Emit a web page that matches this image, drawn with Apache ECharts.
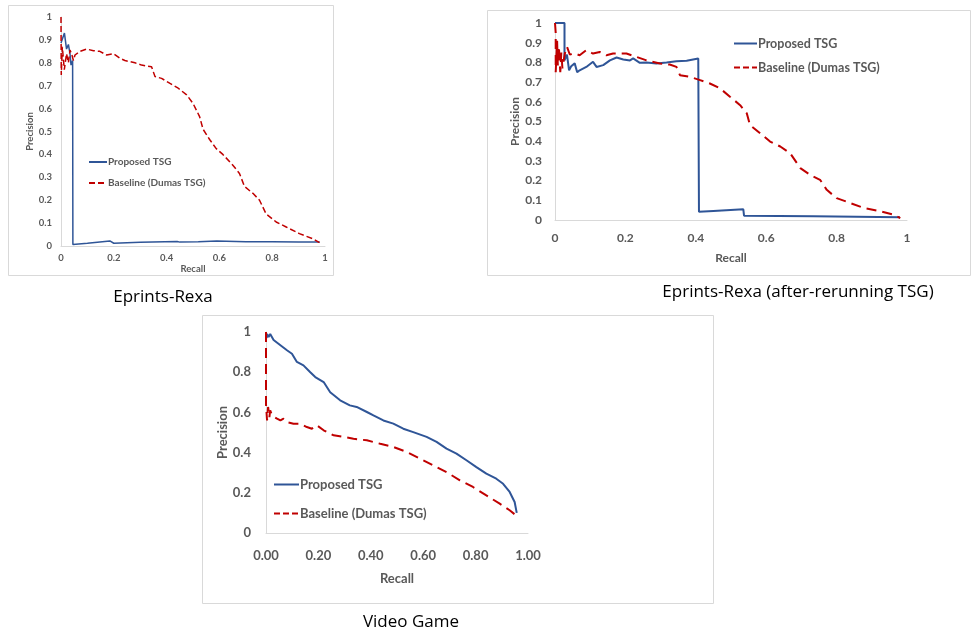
<!DOCTYPE html>
<html>
<head>
<meta charset="utf-8">
<script src="https://cdn.jsdelivr.net/npm/echarts@6/dist/echarts.min.js"></script>
<style>
  html, body { margin: 0; padding: 0; background: #ffffff; }
  #main { width: 971px; height: 634px; }
</style>
</head>
<body>
<div id="main"></div>
<script>
// ---------- data (recall, precision) ----------
const seriesNames = ['Proposed TSG', 'Baseline (Dumas TSG)'];
const captions = ['Eprints-Rexa', 'Eprints-Rexa (after-rerunning TSG)', 'Video Game'];
const recallTicks = [0, 0.2, 0.4, 0.6, 0.8, 1];

const rexaProposed = [[0,0.886],[0.013,0.93],[0.021,0.86],[0.028,0.88],[0.034,0.84],[0.038,0.79],[0.044,0.81],[0.045,0.007],[0.1,0.012],[0.185,0.022],[0.2,0.012],[0.3,0.016],[0.44,0.02],[0.45,0.017],[0.52,0.019],[0.59,0.022],[0.7,0.019],[0.8,0.019],[0.9,0.018],[0.98,0.017]];
const rexaBaseline = [[0,1.0],[0.001,0.747],[0.005,0.87],[0.0125,0.77],[0.021,0.84],[0.028,0.80],[0.034,0.856],[0.04,0.84],[0.047,0.81],[0.053,0.834],[0.072,0.85],[0.097,0.86],[0.123,0.853],[0.147,0.85],[0.173,0.834],[0.198,0.84],[0.223,0.82],[0.242,0.81],[0.28,0.80],[0.305,0.79],[0.343,0.783],[0.356,0.74],[0.381,0.732],[0.413,0.71],[0.444,0.689],[0.476,0.66],[0.5,0.623],[0.525,0.565],[0.538,0.51],[0.563,0.465],[0.588,0.425],[0.613,0.40],[0.651,0.353],[0.676,0.317],[0.695,0.26],[0.727,0.23],[0.752,0.20],[0.777,0.14],[0.815,0.105],[0.853,0.083],[0.903,0.054],[0.953,0.032],[0.979,0.015]];

const rerunProposed = [[0,1.0],[0.027,1.0],[0.027,0.81],[0.034,0.84],[0.04,0.76],[0.046,0.78],[0.056,0.795],[0.063,0.75],[0.07,0.76],[0.089,0.777],[0.108,0.803],[0.118,0.777],[0.137,0.786],[0.156,0.81],[0.175,0.825],[0.194,0.815],[0.213,0.81],[0.222,0.82],[0.241,0.798],[0.26,0.80],[0.288,0.795],[0.317,0.80],[0.345,0.806],[0.374,0.808],[0.407,0.82],[0.409,0.042],[0.45,0.046],[0.535,0.054],[0.537,0.022],[0.734,0.019],[0.98,0.014]];
const rerunBaseline = [[0,1.0],[0.002,0.95],[0.002,0.75],[0.006,0.91],[0.008,0.785],[0.011,0.88],[0.015,0.75],[0.018,0.85],[0.021,0.77],[0.028,0.845],[0.034,0.88],[0.042,0.84],[0.056,0.845],[0.07,0.836],[0.089,0.862],[0.108,0.845],[0.127,0.853],[0.146,0.836],[0.165,0.845],[0.203,0.845],[0.231,0.828],[0.26,0.81],[0.298,0.794],[0.326,0.789],[0.345,0.777],[0.355,0.735],[0.383,0.727],[0.412,0.71],[0.44,0.693],[0.469,0.668],[0.497,0.626],[0.526,0.583],[0.545,0.541],[0.554,0.482],[0.583,0.44],[0.611,0.398],[0.64,0.373],[0.668,0.339],[0.697,0.263],[0.725,0.229],[0.753,0.204],[0.772,0.153],[0.8,0.111],[0.839,0.086],[0.877,0.061],[0.925,0.044],[0.962,0.027],[0.981,0.01]];

const videoProposed = [[0.002,0.97],[0.004,0.99],[0.01,0.975],[0.016,0.99],[0.029,0.96],[0.055,0.934],[0.08,0.909],[0.099,0.892],[0.118,0.851],[0.143,0.834],[0.169,0.80],[0.188,0.776],[0.22,0.751],[0.245,0.70],[0.283,0.66],[0.32,0.635],[0.346,0.627],[0.385,0.602],[0.41,0.585],[0.448,0.56],[0.486,0.544],[0.524,0.519],[0.562,0.502],[0.613,0.478],[0.651,0.453],[0.689,0.42],[0.727,0.395],[0.765,0.362],[0.803,0.328],[0.841,0.295],[0.879,0.27],[0.905,0.245],[0.93,0.204],[0.949,0.154],[0.957,0.1]];
const videoBaseline = [[0,1.0],[0,0.64],[0.004,0.56],[0.008,0.627],[0.013,0.577],[0.016,0.61],[0.023,0.585],[0.032,0.577],[0.042,0.569],[0.055,0.56],[0.067,0.569],[0.08,0.552],[0.105,0.544],[0.13,0.544],[0.156,0.527],[0.175,0.519],[0.194,0.536],[0.22,0.511],[0.258,0.486],[0.296,0.478],[0.334,0.469],[0.385,0.461],[0.436,0.444],[0.486,0.428],[0.537,0.403],[0.588,0.37],[0.638,0.337],[0.689,0.303],[0.74,0.262],[0.79,0.229],[0.841,0.187],[0.892,0.146],[0.93,0.113],[0.952,0.09]];

// ---------- styling ----------
const BLUE = '#2f5597', RED = '#c00000', GRAY = '#595959', AXIS = '#d9d9d9', BORDER = '#d9d9d9';
const FONT = 'Lato';

const panels = [
  { grid: {left: 61, top: 17, width: 264, height: 229}, yInt: 0.1, fs: 9.5, lfs: 10, xFmt: v => String(+v.toFixed(1)),
    xMargin: 7, yMargin: 9, xGap: 16, yGap: 25, lw: 1.5, dash: [6, 3],
    legend: {left: 88, top: 157, itemWidth: 18, itemHeight: 10, itemGap: 11},
    data: [rexaProposed, rexaBaseline] },
  { grid: {left: 555, top: 23, width: 352, height: 197}, yInt: 0.1, fs: 12, lfs: 12.5, xFmt: v => String(+v.toFixed(1)),
    xMargin: 12, yMargin: 13, xGap: 32, yGap: 33, lw: 2, dash: [10, 6],
    legend: {left: 733, top: 37, itemWidth: 23, itemHeight: 12, itemGap: 11},
    data: [rerunProposed, rerunBaseline] },
  { grid: {left: 266, top: 332, width: 262, height: 201}, yInt: 0.2, fs: 13, lfs: 13, xFmt: v => v.toFixed(2),
    xMargin: 16, yMargin: 15, xGap: 39, yGap: 35, lw: 2, dash: [10, 6],
    legend: {left: 273, top: 478, itemWidth: 25, itemHeight: 12, itemGap: 16},
    data: [videoProposed, videoBaseline] }
];

const option = {
  animation: false,
  backgroundColor: '#ffffff',
  textStyle: { fontFamily: FONT },
  grid: panels.map(p => Object.assign({containLabel: false}, p.grid)),
  xAxis: panels.map((p, i) => ({
    type: 'value', gridIndex: i, min: 0, max: 1, interval: 0.2,
    name: 'Recall', nameLocation: 'middle', nameGap: p.xGap,
    nameTextStyle: { color: GRAY, fontWeight: 'bold', fontSize: p.fs, fontFamily: FONT },
    axisLine: { show: true, lineStyle: { color: AXIS, width: 1 } },
    axisTick: { show: false }, splitLine: { show: false },
    axisLabel: { color: GRAY, fontWeight: 'bold', fontSize: p.fs, margin: p.xMargin, formatter: p.xFmt, fontFamily: FONT }
  })),
  yAxis: panels.map((p, i) => ({
    type: 'value', gridIndex: i, min: 0, max: 1, interval: p.yInt,
    name: 'Precision', nameLocation: 'middle', nameGap: p.yGap, nameRotate: 90,
    nameTextStyle: { color: GRAY, fontWeight: 'bold', fontSize: p.fs, fontFamily: FONT },
    axisLine: { show: true, lineStyle: { color: AXIS, width: 1 } },
    axisTick: { show: false }, splitLine: { show: false },
    axisLabel: { color: GRAY, fontWeight: 'bold', fontSize: p.fs, margin: p.yMargin, fontFamily: FONT,
      formatter: v => String(+v.toFixed(1)) }
  })),
  legend: panels.map(p => ({
    orient: 'vertical', left: p.legend.left, top: p.legend.top,
    itemWidth: p.legend.itemWidth, itemHeight: p.legend.itemHeight, itemGap: p.legend.itemGap,
    padding: 0, selectedMode: false, data: seriesNames,
    itemStyle: { color: 'rgba(0,0,0,0)', borderWidth: 0, opacity: 0 },
    textStyle: { color: GRAY, fontWeight: 'bold', fontSize: p.lfs, fontFamily: FONT, padding: [0, 0, 0, -4] }
  })),
  series: panels.flatMap((p, i) => [
    { name: seriesNames[0], type: 'line', xAxisIndex: i, yAxisIndex: i, data: p.data[0],
      showSymbol: false, symbol: 'none', color: BLUE, lineStyle: { color: BLUE, width: p.lw } },
    { name: seriesNames[1], type: 'line', xAxisIndex: i, yAxisIndex: i, data: p.data[1],
      showSymbol: false, symbol: 'none', color: RED, lineStyle: { color: RED, width: p.lw, type: p.dash } }
  ]),
  graphic: [
    { type: 'rect', shape: {x: 8.5, y: 5.5, width: 325, height: 270}, style: {fill: 'none', stroke: BORDER, lineWidth: 1}, silent: true },
    { type: 'rect', shape: {x: 487.5, y: 10.5, width: 483, height: 265}, style: {fill: 'none', stroke: BORDER, lineWidth: 1}, silent: true },
    { type: 'rect', shape: {x: 202.5, y: 315.5, width: 511, height: 288}, style: {fill: 'none', stroke: BORDER, lineWidth: 1}, silent: true },
    { type: 'text', x: 163, y: 297, style: {text: captions[0], fill: '#000', font: '17px "Open Sans"', align: 'center', verticalAlign: 'middle'} },
    { type: 'text', x: 798, y: 292, style: {text: captions[1], fill: '#000', font: '17px "Open Sans"', align: 'center', verticalAlign: 'middle'} },
    { type: 'text', x: 411, y: 622, style: {text: captions[2], fill: '#000', font: '17px "Open Sans"', align: 'center', verticalAlign: 'middle'} }
  ]
};

const chart = echarts.init(document.getElementById('main'), null, {renderer: 'canvas'});
chart.setOption(option);
</script>
</body>
</html>
